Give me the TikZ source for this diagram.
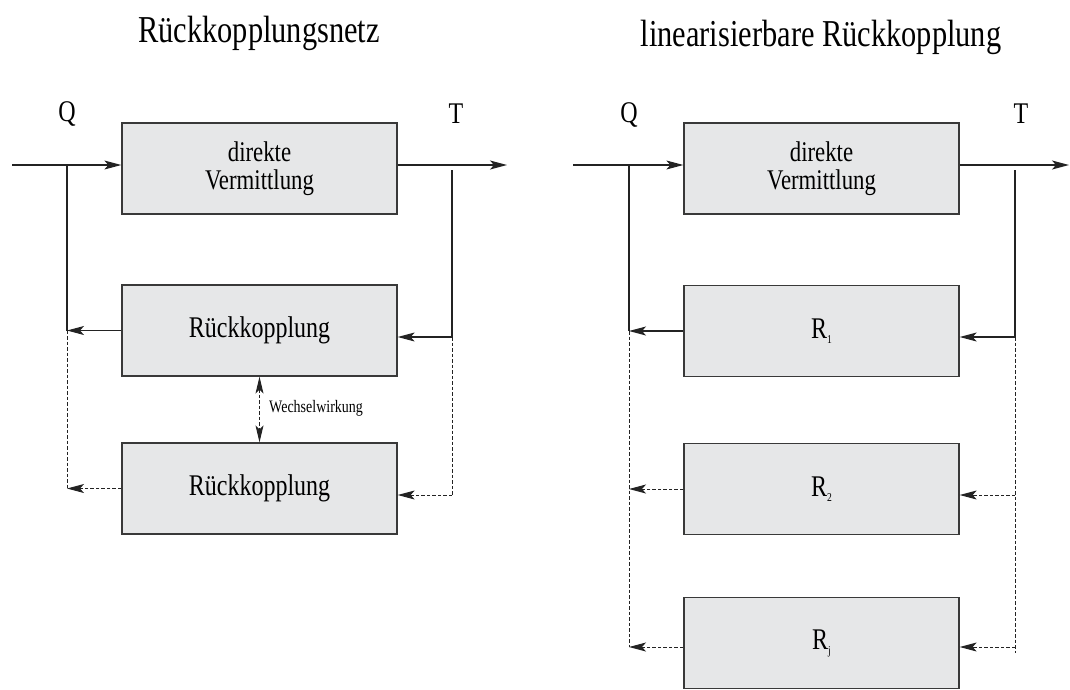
\documentclass[tikz,border=0pt]{standalone}
\usepackage{fontspec}
\setmainfont{Liberation Serif}[FakeStretch=0.8]
\usetikzlibrary{arrows.meta}
\definecolor{boxfill}{RGB}{230,231,232}
\definecolor{linec}{RGB}{35,35,35}
\tikzset{
  blk/.style={draw=linec!90, line width=1.3pt, fill=boxfill, minimum width=275pt, minimum height=91pt, inner sep=0pt, font=\fontsize{30}{30}\selectfont},
  ln/.style={draw=linec, line width=1.1pt},
  dl/.style={draw=linec, line width=1pt, dash pattern=on 3.5pt off 2pt},
  tip/.style={-{Stealth[length=17pt,width=9pt,inset=4pt]}},
  dtip/.style={{Stealth[length=17pt,width=8pt,inset=4pt]}-{Stealth[length=17pt,width=8pt,inset=4pt]}},
  ttl/.style={anchor=base, inner sep=0pt, font=\fontsize{38}{38}\selectfont},
  lbl/.style={anchor=base, inner sep=0pt, font=\fontsize{30}{30}\selectfont},
}
\newcommand{\Rsub}[1]{R\raisebox{-5pt}{\fontsize{12}{12}\selectfont #1}}
\begin{document}
\begin{tikzpicture}[x=1pt,y=-1pt]
\useasboundingbox (0,0) rectangle (1070,689);
% ---------- left diagram ----------
\node[ttl] (t1) at (259,42) {Rückkopplungsnetz};
\node[lbl] (qa) at (67,121) {Q};
\node[lbl] (ta) at (456,123) {T};
\node[blk, align=center, font=\fontsize{28.5}{28}\selectfont] (a1) at (259.5,168.5) {direkte\\Vermittlung};
\node[blk] (a2) at (259.5,330.5) {Rückkopplung};
\node[blk] (a3) at (259.5,488.5) {Rückkopplung};
\coordinate (ain) at (12,165);
\coordinate (aq) at (67,165);
\coordinate (aout) at (507,165);
\coordinate (at0) at (452,170);
\coordinate (at1) at (452,337);
\coordinate (at2) at (452,495);
\draw[ln,tip] (ain) -- (ain -| a1.west);
\draw[ln,tip] (a1.east |- aout) -- (aout);
\draw[ln] (aq) -- (aq |- a2.west);
\draw[ln,tip] (a2.west) -- (aq |- a2.west);
\draw[dl] (aq |- a2.west) -- (aq |- a3.west);
\draw[dl,tip] (a3.west) -- (aq |- a3.west);
\draw[ln] (at0) -- (at1);
\draw[ln,tip] (at1) -- (at1 -| a2.east);
\draw[dl] (at1) -- (at2);
\draw[dl,tip] (at2) -- (at2 -| a3.east);
\draw[dl,dtip] (a2.south) -- (a3.north);
\node[anchor=west, inner sep=0pt, font=\fontsize{17.5}{17.5}\selectfont] (ww) at (269,408) {Wechselwirkung};
% ---------- right diagram ----------
\node[ttl] (t2) at (821,46) {linearisierbare Rückkopplung};
\node[lbl] (qb) at (629,122) {Q};
\node[lbl] (tb) at (1021,123) {T};
\node[blk, align=center, font=\fontsize{28.5}{28}\selectfont] (b1) at (821.5,168.5) {direkte\\Vermittlung};
\node[blk] (b2) at (821.5,331) {\Rsub{1}};
\node[blk] (b3) at (821.5,489) {\Rsub{2}};
\node[blk] (b4) at (821.5,643) {\Rsub{j}};
\coordinate (bin) at (573,165);
\coordinate (bq) at (629,165);
\coordinate (bout) at (1069,165);
\coordinate (bt0) at (1015,170);
\coordinate (bt1) at (1015,337);
\coordinate (bt2) at (1015,495);
\coordinate (bt3) at (1015,647);
\coordinate (bt4) at (1015,653);
\coordinate (bl3) at (629,647);
\draw[ln,tip] (bin) -- (bin -| b1.west);
\draw[ln,tip] (b1.east |- bout) -- (bout);
\draw[ln] (bq) -- (bq |- b2.west);
\draw[ln,tip] (b2.west) -- (bq |- b2.west);
\draw[dl] (bq |- b2.west) -- (bl3);
\draw[dl,tip] (b3.west) -- (bq |- b3.west);
\draw[dl,tip] (bl3 -| b4.west) -- (bl3);
\draw[ln] (bt0) -- (bt1);
\draw[ln,tip] (bt1) -- (bt1 -| b2.east);
\draw[dl] (bt1) -- (bt4);
\draw[dl,tip] (bt2) -- (bt2 -| b3.east);
\draw[dl,tip] (bt3) -- (bt3 -| b4.east);
\end{tikzpicture}
\end{document}
